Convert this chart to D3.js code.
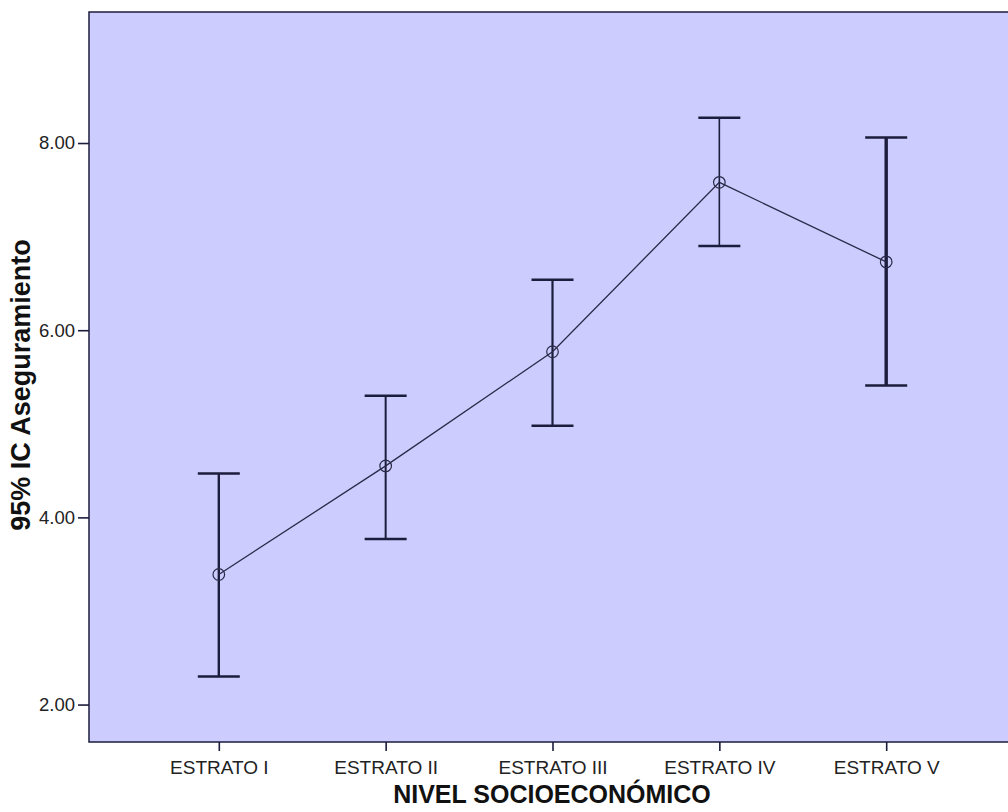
<!DOCTYPE html>
<html>
<head>
<meta charset="utf-8">
<script src="https://cdn.jsdelivr.net/npm/d3@7/dist/d3.min.js"></script>
<style>
  body { margin: 0; background: #fff; }
  svg { display: block; font-family: "Liberation Sans", Arial, sans-serif; }
</style>
</head>
<body>
<svg id="chart" width="1008" height="812"></svg>
<script>
// Mean and 95% confidence interval of "Aseguramiento" by socioeconomic stratum
const categories = ["ESTRATO I", "ESTRATO II", "ESTRATO III", "ESTRATO IV", "ESTRATO V"];
const means      = [3.39, 4.55, 5.77, 7.58, 6.73];
const lowerCI    = [2.30, 3.77, 4.98, 6.90, 5.41];
const upperCI    = [4.47, 5.30, 6.54, 8.27, 8.06];
const barWidths  = [2.4, 2.0, 2.2, 1.6, 3.4];
const yTicks     = [2, 4, 6, 8];

const svg = d3.select("#chart");
const plot = { left: 89, top: 12, right: 1016, bottom: 742 };
const ink = "#1c1c3c";
const labelFont = "'Liberation Sans', Arial, sans-serif";

const x = d3.scalePoint().domain(categories).range([plot.left, plot.right]).padding(0.778);
const y = d3.scaleLinear().domain([1.6, 9.4]).range([plot.bottom, plot.top]);

// plot background
svg.append("rect")
  .attr("x", plot.left).attr("y", plot.top)
  .attr("width", plot.right - plot.left).attr("height", plot.bottom - plot.top)
  .attr("fill", "#ccccff");

// frame lines (left, top, bottom)
svg.append("path")
  .attr("d", `M${plot.right},${plot.top}H${plot.left}V${plot.bottom}H${plot.right}`)
  .attr("fill", "none").attr("stroke", ink).attr("stroke-width", 1.5);

// y axis
const yAxis = svg.append("g")
  .attr("transform", `translate(${plot.left},0)`)
  .call(d3.axisLeft(y).tickValues(yTicks).tickFormat(d3.format(".2f")).tickSize(11).tickPadding(3));
yAxis.select(".domain").remove();
yAxis.selectAll(".tick line").attr("stroke", ink).attr("stroke-width", 1.6);
yAxis.selectAll(".tick text").attr("font-size", 18.5).attr("fill", "#222")
  .attr("font-family", labelFont);

// x axis
const xAxis = svg.append("g")
  .attr("transform", `translate(0,${plot.bottom})`)
  .call(d3.axisBottom(x).tickSize(9).tickPadding(10));
xAxis.select(".domain").remove();
xAxis.selectAll(".tick line").attr("stroke", ink).attr("stroke-width", 1.6);
xAxis.selectAll(".tick text").attr("font-size", 19).attr("fill", "#222")
  .attr("font-family", labelFont);

// error bars
const capHalf = 21;
const bars = svg.append("g").selectAll("g")
  .data(categories.map((c, i) => ({ c, lo: lowerCI[i], hi: upperCI[i], w: barWidths[i] })))
  .join("g");
bars.append("line")
  .attr("x1", d => x(d.c)).attr("x2", d => x(d.c))
  .attr("y1", d => y(d.lo)).attr("y2", d => y(d.hi))
  .attr("stroke", ink).attr("stroke-width", d => d.w);
bars.append("line")
  .attr("x1", d => x(d.c) - capHalf).attr("x2", d => x(d.c) + capHalf)
  .attr("y1", d => y(d.hi)).attr("y2", d => y(d.hi))
  .attr("stroke", ink).attr("stroke-width", 2.5);
bars.append("line")
  .attr("x1", d => x(d.c) - capHalf).attr("x2", d => x(d.c) + capHalf)
  .attr("y1", d => y(d.lo)).attr("y2", d => y(d.lo))
  .attr("stroke", ink).attr("stroke-width", 2.5);

// mean line
svg.append("path")
  .datum(categories.map((c, i) => [x(c), y(means[i])]))
  .attr("d", d3.line())
  .attr("fill", "none").attr("stroke", "#2a2a48").attr("stroke-width", 1.3);

// mean markers
svg.append("g").selectAll("circle")
  .data(categories.map((c, i) => ({ c, m: means[i] })))
  .join("circle")
  .attr("cx", d => x(d.c)).attr("cy", d => y(d.m)).attr("r", 5.8)
  .attr("fill", "none").attr("stroke", "#2a2a48").attr("stroke-width", 1.2);

// axis titles
svg.append("text")
  .attr("x", 552).attr("y", 803)
  .attr("text-anchor", "middle").attr("font-size", 25).attr("font-weight", "bold").attr("fill", "#111")
  .text("NIVEL SOCIOECONÓMICO");
svg.append("text")
  .attr("transform", "translate(30,385) rotate(-90)")
  .attr("text-anchor", "middle").attr("font-size", 27).attr("font-weight", "bold").attr("fill", "#111")
  .text("95% IC Aseguramiento");
</script>
</body>
</html>
